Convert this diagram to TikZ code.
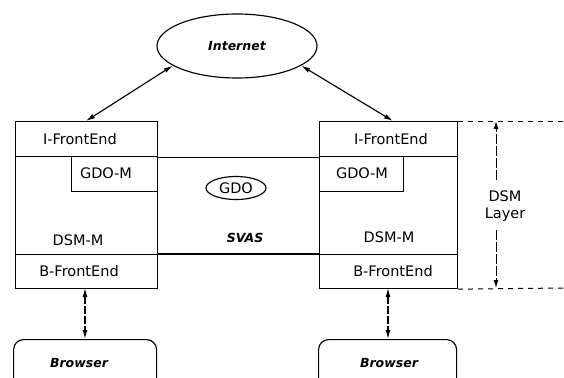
\documentclass[tikz,border=0pt]{standalone}
\usepackage{fontspec}
\setmainfont{DejaVu Sans}
\usetikzlibrary{shapes.geometric,arrows.meta}
\begin{document}
\begin{tikzpicture}[x=1pt,y=-1pt,line width=1.15pt,
  every node/.style={font=\fontsize{14.5}{17}\selectfont},
  frame/.style={draw, rectangle, inner sep=0pt, anchor=north west},
  lbl/.style={inner sep=0pt},
  emph/.style={font=\fontsize{12.5}{15}\selectfont\bfseries\itshape},
  biarrow/.style={{Latex[length=9pt,width=5pt]}-{Latex[length=9pt,width=5pt]}},
  linkarrow/.style={biarrow, dash pattern=on 8pt off 2pt},
  uparrow/.style={-{Latex[length=8pt,width=5pt]}, line width=1pt, dash pattern=on 10pt off 2pt},
  guide/.style={line width=1pt, dash pattern=on 5pt off 5pt}]
\path[use as bounding box] (0,0) rectangle (564,377);
\clip (0,0) rectangle (564,377);

% network cloud
\node[draw, ellipse, minimum width=160pt, minimum height=64pt, emph] (inet) at (237,46) {Internet};

% left server
\node[frame, minimum width=142pt, minimum height=167pt] (lbox) at (15,121) {};
\node[frame, minimum width=142pt, minimum height=35pt] (lfe) at (15,121) {};
\node[frame, minimum width=142pt, minimum height=34pt] (lbe) at (15,254) {};
\node[frame, minimum width=86pt, minimum height=35pt] (lgdm) at (71,156) {};
\node[lbl] (lfet) at (80,139) {I-FrontEnd};
\node[lbl] (lgdmt) at (106,173) {GDO-M};
\node[lbl] (ldsm) at (78,240) {DSM-M};
\node[lbl] (lbet) at (79,271) {B-FrontEnd};

% right server
\node[frame, minimum width=138pt, minimum height=167pt] (rbox) at (319,121) {};
\node[frame, minimum width=138pt, minimum height=35pt] (rfe) at (319,121) {};
\node[frame, minimum width=138pt, minimum height=34pt] (rbe) at (319,254) {};
\node[frame, minimum width=84pt, minimum height=35pt] (rgdm) at (319,156) {};
\node[lbl] (rfet) at (391,139) {I-FrontEnd};
\node[lbl] (rgdmt) at (362,173) {GDO-M};
\node[lbl] (rdsm) at (389,237) {DSM-M};
\node[lbl] (rbet) at (393,271) {B-FrontEnd};

% shared space between the servers
\draw (lfe.south east) -- (rfe.south west);
\draw (lbe.north east) -- (rbe.north west);
\node[draw, ellipse, inner sep=0pt, minimum width=60pt, minimum height=23pt] (gdo) at (236,188) {GDO};
\node[lbl, emph] (svas) at (245,238) {SVAS};

% browsers
\node[draw, rounded corners=10pt, anchor=north west, minimum width=143pt, minimum height=56pt] (lbr) at (13,339) {};
\node[draw, rounded corners=10pt, anchor=north west, minimum width=138pt, minimum height=56pt] (rbr) at (318,339) {};
\node[lbl, emph] (lbrt) at (79,363) {Browser};
\node[lbl, emph] (rbrt) at (389,363) {Browser};

% connections
\coordinate (lup) at (86,121);
\coordinate (rup) at (393,121);
\draw[biarrow] (lup) -- (inet.197);
\draw[biarrow] (rup) -- (inet.-17);
\coordinate (ldown) at (85,288);
\coordinate (rdown) at (388,288);
\draw[linkarrow] (ldown) -- (ldown |- lbr.north);
\draw[linkarrow] (rdown) -- (rdown |- rbr.north);

% layer extent
\coordinate (gt) at (564,121);
\coordinate (gb) at (564,288);
\draw[guide] (rbox.north east) -- (gt);
\draw[guide] (rbox.south east) -- (gb);
\node[inner sep=5pt, align=center] (dsm) at (505,206) {DSM\\Layer};
\coordinate (dtop) at (496,180);
\coordinate (dbot) at (496,230);
\draw[uparrow] (dtop) -- (dtop |- gt);
\draw[uparrow] (dbot) -- (dbot |- gb);
\end{tikzpicture}
\end{document}
